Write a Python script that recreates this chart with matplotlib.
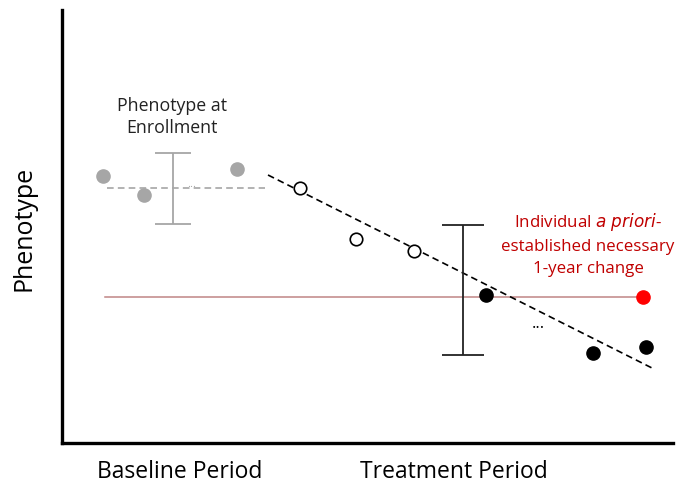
import matplotlib.pyplot as plt

plt.rcParams['font.family'] = ['Open Sans', 'DejaVu Sans']

# schematic units: x to the right, y upward (phenotype)
baseline_x = [41, 82, 175]
baseline_y = [267, 248, 274]
baseline_mean_x = [45, 203]
baseline_mean_y = [255, 255]
baseline_bar = (111, 254.5, 35.5)   # x, centre, half-range

open_x = [238, 294, 352]
open_y = [255, 204, 192]

trend_x = [206, 590]
trend_y = [268, 75]

filled_x = [424, 531, 584]
filled_y = [148, 90, 96]

target_x = 581
target_y = 146
target_line_x = [43, 581]

treat_bar = (401, 153, 65)

fig = plt.figure(figsize=(6.79, 4.88), dpi=100)
ax = fig.add_axes([62 / 679, 45 / 488, 611 / 679, 433 / 488])
ax.set_xlim(0, 611)
ax.set_ylim(0, 433)

gray = '#a6a6a6'

# baseline period
ax.plot(baseline_mean_x, baseline_mean_y, ls=(0, (4, 2.5)), color=gray, lw=1.2)
ax.errorbar([baseline_bar[0]], [baseline_bar[1]], yerr=[baseline_bar[2]],
            fmt='none', ecolor=gray, elinewidth=1.3, capsize=13, capthick=1.3)
ax.plot(baseline_x, baseline_y, 'o', color=gray, ms=9.5, mec=gray)
ax.text(130, 259, '...', color=gray, fontsize=8, ha='center', va='center')

# treatment period
ax.plot(target_line_x, [target_y, target_y], color='#c08585', lw=1.1)
ax.plot(trend_x, trend_y, ls=(0, (4, 2.5)), color='black', lw=1.2)
ax.errorbar([treat_bar[0]], [treat_bar[1]], yerr=[treat_bar[2]],
            fmt='none', ecolor='#222222', elinewidth=1.3, capsize=15, capthick=1.3)
ax.plot(open_x, open_y, 'o', mfc='white', mec='black', ms=9, mew=1.2)
ax.plot(filled_x, filled_y, 'o', color='black', ms=9.5)
ax.plot([target_x], [target_y], 'o', color='#ff0000', ms=9.5)
ax.text(476, 119, '...', color='black', fontsize=12, ha='center', va='center')

ax.text(110, 326, 'Phenotype at\nEnrollment', fontsize=12.8, ha='center', va='center',
        linespacing=1.35, color='#222222')
ax.text(526, 199, 'Individual $\\it{a\\ priori}$-\nestablished necessary\n1-year change',
        fontsize=12.2, ha='center', va='center', linespacing=1.5, color='#c00000')

for side in ['top', 'right']:
    ax.spines[side].set_visible(False)
for side in ['left', 'bottom']:
    ax.spines[side].set_linewidth(2.4)
ax.set_xticks([])
ax.set_yticks([])

fig.text(24 / 679, 1 - 228 / 488, 'Phenotype', rotation=90, fontsize=18,
         ha='center', va='center')
fig.text(180 / 679, 1 - 472 / 488, 'Baseline Period', fontsize=16.5, ha='center', va='center')
fig.text(454 / 679, 1 - 472 / 488, 'Treatment Period', fontsize=16.5, ha='center', va='center')

fig.savefig('out.png', dpi=100)
